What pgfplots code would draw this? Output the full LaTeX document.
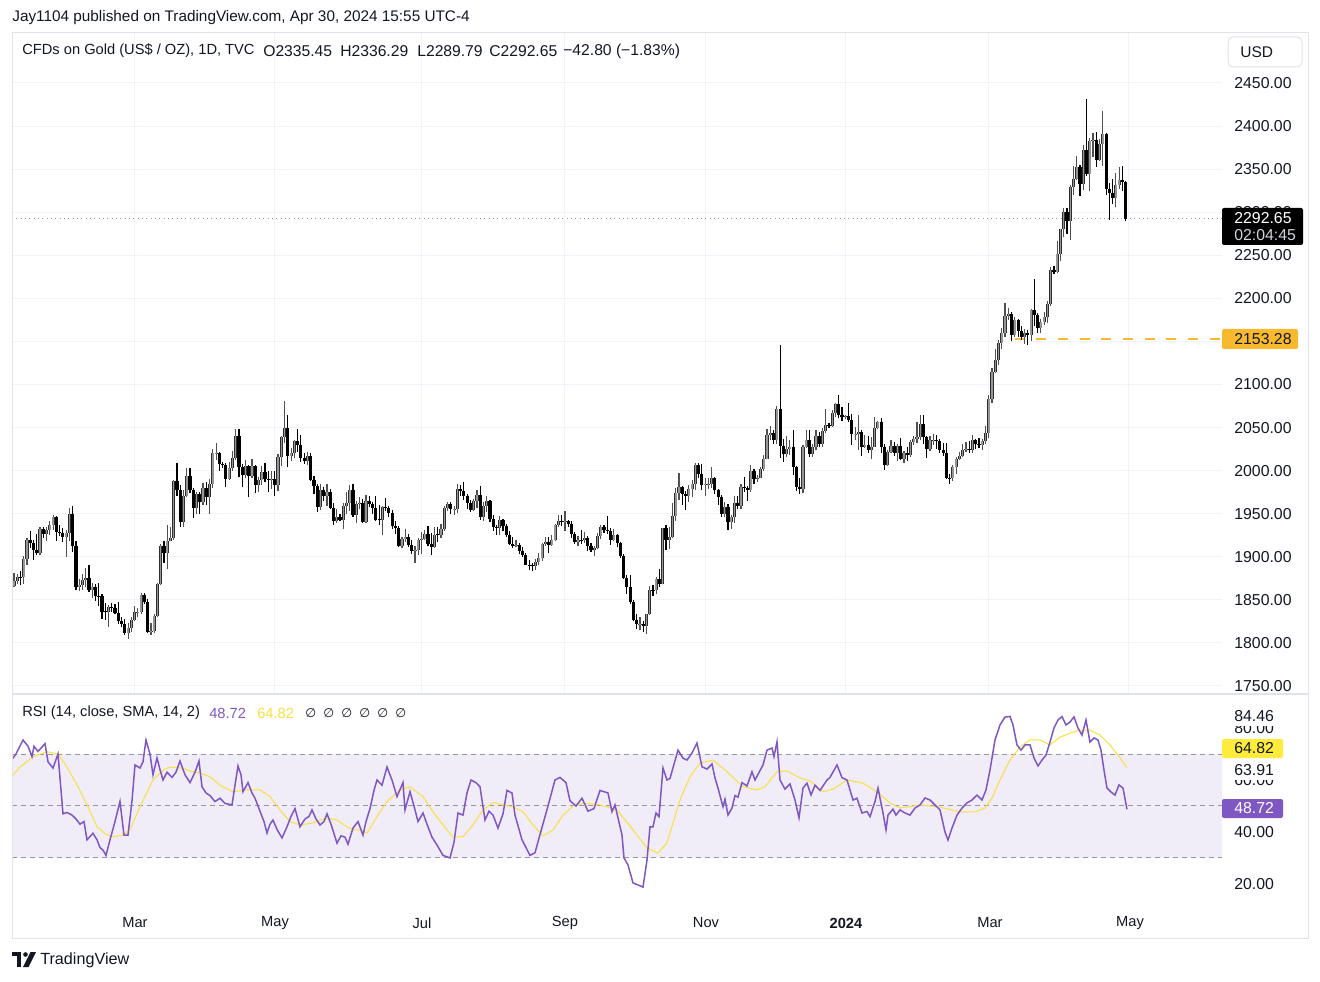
\documentclass[border=0pt]{standalone}
\usepackage{fontspec}
\setmainfont{Liberation Sans}
\newfontfamily\dejavu{DejaVu Sans}
\usepackage{pgfplots}
\usepackage{pgfplotstable}
\pgfplotsset{compat=1.18}
\usepgfplotslibrary{fillbetween}

\definecolor{tvtext}{RGB}{19,23,34}
\definecolor{gridc}{RGB}{240,243,250}
\definecolor{framec}{RGB}{224,227,235}
\definecolor{rsic}{RGB}{126,87,194}
\definecolor{smac}{RGB}{250,224,60}
\definecolor{smabox}{RGB}{255,235,59}
\definecolor{dashc}{RGB}{150,152,161}
\definecolor{ylw}{RGB}{249,185,46}
\definecolor{upedge}{RGB}{45,45,45}
\definecolor{upfill}{RGB}{150,150,150}
\definecolor{upwick}{RGB}{80,80,80}

% daily OHLC, bar index 0 = 9 Jan 2023 ... 341 = 30 Apr 2024
\pgfplotstableread{
i o h l c
0 1866 1881 1865 1872
1 1872 1880 1868 1877
2 1877 1884 1867 1876
3 1876 1901 1868 1897
4 1897 1922 1891 1920
5 1920 1930 1910 1916
6 1916 1920 1896 1908
7 1908 1927 1902 1904
8 1904 1935 1902 1932
9 1932 1934 1922 1926
10 1926 1935 1918 1931
11 1931 1942 1925 1937
12 1937 1949 1931 1946
13 1946 1947 1918 1929
14 1929 1937 1924 1928
15 1928 1933 1917 1923
16 1923 1931 1900 1928
17 1928 1957 1918 1950
18 1950 1959 1905 1912
19 1912 1918 1861 1865
20 1865 1874 1860 1867
21 1867 1880 1862 1873
22 1873 1887 1865 1875
23 1875 1890 1859 1861
24 1861 1870 1852 1865
25 1865 1868 1849 1854
26 1855 1870 1843 1854
27 1854 1857 1828 1836
28 1837 1846 1827 1836
29 1836 1844 1819 1842
30 1842 1846 1836 1841
31 1841 1845 1833 1835
32 1835 1847 1822 1825
33 1825 1830 1818 1822
34 1822 1828 1809 1811
35 1811 1823 1804 1817
36 1817 1830 1813 1827
37 1827 1843 1826 1836
38 1835 1841 1830 1836
39 1836 1858 1834 1856
40 1856 1858 1845 1847
41 1847 1851 1812 1813
42 1813 1823 1809 1814
43 1814 1834 1812 1831
44 1831 1870 1830 1868
45 1868 1915 1867 1913
46 1913 1918 1893 1904
47 1904 1937 1886 1918
48 1918 1934 1918 1922
49 1922 1989 1919 1988
50 1988 2009 1971 1978
51 1978 1983 1935 1940
52 1940 1977 1934 1970
53 1970 2003 1969 1994
54 1994 2003 1974 1977
55 1977 1980 1945 1957
56 1957 1975 1950 1973
57 1973 1975 1950 1964
58 1964 1986 1960 1980
59 1980 1987 1960 1969
60 1969 1990 1950 1984
61 1984 2025 1980 2020
62 2020 2032 2012 2021
63 2021 2022 2000 2008
64 2008 2010 2003 2007
65 2007 2009 1981 1990
66 1990 2010 1989 2003
67 2003 2023 2000 2015
68 2015 2048 2012 2040
69 2040 2048 1993 2004
70 2004 2008 1981 1995
71 1995 2012 1991 2005
72 2005 2007 1969 1994
73 1994 2013 1991 2005
74 2005 2006 1974 1983
75 1983 1993 1975 1989
76 1989 2005 1983 1998
77 1998 2009 1987 1990
78 1990 2000 1975 1989
79 1989 2000 1979 1990
80 1990 1999 1970 1983
81 1983 2019 1976 2016
82 2016 2040 2005 2039
83 2039 2081 2032 2050
84 2050 2065 2004 2017
85 2017 2026 2011 2021
86 2021 2036 2015 2034
87 2034 2048 2022 2030
88 2030 2041 2010 2015
89 2015 2021 2008 2011
90 2011 2022 2006 2017
91 2017 2020 1988 1989
92 1989 1994 1973 1982
93 1982 1984 1952 1958
94 1958 1984 1954 1977
95 1977 1981 1965 1971
96 1971 1985 1959 1975
97 1975 1979 1956 1957
98 1957 1962 1937 1941
99 1941 1955 1939 1946
100 1946 1950 1941 1943
101 1943 1962 1932 1959
102 1959 1975 1950 1963
103 1963 1983 1953 1978
104 1978 1984 1946 1948
105 1948 1965 1939 1961
106 1961 1969 1955 1963
107 1963 1967 1939 1940
108 1940 1972 1939 1965
109 1965 1971 1958 1961
110 1961 1964 1950 1957
111 1957 1971 1942 1943
112 1944 1960 1937 1943
113 1943 1959 1925 1958
114 1958 1968 1953 1957
115 1957 1959 1946 1951
116 1951 1954 1932 1936
117 1936 1941 1926 1933
118 1933 1936 1911 1913
119 1913 1923 1910 1921
120 1921 1932 1917 1923
121 1923 1926 1911 1914
122 1914 1920 1903 1907
123 1907 1913 1893 1908
124 1908 1922 1902 1919
125 1919 1929 1903 1921
126 1921 1931 1919 1926
127 1926 1936 1912 1915
128 1915 1928 1902 1911
129 1911 1934 1910 1925
130 1926 1935 1917 1925
131 1925 1938 1922 1932
132 1932 1959 1930 1957
133 1957 1964 1953 1961
134 1961 1964 1950 1955
135 1954 1959 1948 1955
136 1955 1984 1951 1979
137 1979 1983 1970 1976
138 1976 1987 1966 1970
139 1970 1973 1955 1962
140 1962 1966 1952 1954
141 1954 1967 1953 1965
142 1965 1978 1957 1972
143 1972 1982 1943 1946
144 1946 1964 1942 1959
145 1959 1970 1952 1965
146 1965 1966 1940 1944
147 1944 1949 1930 1934
148 1934 1937 1925 1933
149 1933 1947 1925 1943
150 1943 1944 1930 1936
151 1936 1938 1923 1925
152 1925 1930 1914 1915
153 1915 1923 1910 1913
154 1913 1919 1911 1914
155 1914 1916 1903 1907
156 1907 1911 1900 1902
157 1902 1904 1890 1891
158 1891 1896 1885 1889
159 1890 1893 1884 1889
160 1889 1897 1885 1894
161 1894 1904 1890 1899
162 1899 1916 1895 1915
163 1915 1923 1913 1917
164 1917 1923 1904 1914
165 1914 1925 1912 1920
166 1920 1938 1918 1937
167 1937 1948 1935 1942
168 1942 1949 1936 1940
169 1940 1953 1930 1941
170 1941 1943 1935 1938
171 1938 1942 1922 1926
172 1926 1929 1915 1917
173 1917 1924 1913 1919
174 1920 1931 1915 1919
175 1919 1929 1916 1922
176 1922 1924 1907 1913
177 1913 1916 1906 1908
178 1908 1912 1901 1910
179 1910 1928 1909 1924
180 1924 1937 1921 1934
181 1934 1937 1928 1931
182 1931 1947 1927 1930
183 1930 1933 1914 1920
184 1920 1932 1918 1925
185 1925 1926 1911 1916
186 1916 1917 1899 1901
187 1901 1903 1874 1875
188 1875 1879 1857 1865
189 1865 1879 1845 1848
190 1848 1850 1825 1827
191 1827 1833 1816 1822
192 1821 1830 1815 1822
193 1822 1826 1813 1820
194 1820 1834 1810 1833
195 1833 1866 1832 1862
196 1862 1867 1855 1861
197 1861 1877 1857 1874
198 1874 1886 1865 1868
199 1868 1933 1868 1933
200 1933 1937 1908 1919
201 1919 1935 1909 1923
202 1923 1962 1922 1947
203 1947 1980 1942 1974
204 1974 1997 1966 1981
205 1981 1982 1960 1973
206 1973 1976 1954 1971
207 1971 1983 1964 1979
208 1979 1989 1969 1985
209 1985 2009 1978 2006
210 2006 2009 1991 1996
211 1996 2008 1977 1983
212 1983 1991 1970 1984
213 1984 1992 1979 1985
214 1985 2004 1980 1992
215 1992 1993 1973 1978
216 1978 1979 1960 1969
217 1969 1972 1946 1950
218 1950 1964 1946 1958
219 1958 1961 1931 1940
220 1940 1948 1932 1946
221 1946 1971 1939 1963
222 1963 1970 1955 1959
223 1959 1984 1956 1981
224 1981 1993 1975 1980
225 1980 1982 1965 1978
226 1978 2007 1975 1999
227 1999 2002 1985 1990
228 1990 1995 1987 1992
229 1992 2004 1991 2002
230 2002 2018 1999 2014
231 2014 2048 2013 2041
232 2041 2052 2036 2044
233 2044 2047 2031 2036
234 2036 2075 2031 2072
235 2072 2146 2015 2029
236 2029 2037 2010 2019
237 2019 2040 2016 2025
238 2025 2035 2018 2028
239 2028 2047 1995 2004
240 2004 2005 1976 1981
241 1981 1992 1973 1979
242 1979 2030 1974 2027
243 2027 2047 2026 2036
244 2036 2047 2016 2019
245 2019 2031 2016 2027
246 2027 2047 2024 2040
247 2040 2045 2027 2031
248 2031 2049 2027 2046
249 2046 2071 2044 2053
250 2053 2055 2050 2052
251 2052 2070 2051 2067
252 2067 2078 2062 2077
253 2077 2088 2061 2065
254 2065 2074 2058 2062
255 2062 2065 2060 2063
256 2063 2079 2057 2059
257 2059 2066 2030 2042
258 2042 2051 2035 2043
259 2043 2064 2024 2045
260 2045 2047 2017 2027
261 2027 2041 2026 2030
262 2030 2040 2021 2024
263 2024 2039 2013 2028
264 2028 2062 2028 2049
265 2049 2058 2048 2057
266 2057 2061 2020 2028
267 2028 2031 2001 2006
268 2006 2024 2005 2022
269 2022 2035 2021 2029
270 2029 2033 2017 2021
271 2021 2031 2011 2029
272 2029 2038 2012 2014
273 2014 2023 2009 2020
274 2020 2027 2011 2018
275 2018 2036 2016 2033
276 2033 2040 2030 2037
277 2037 2056 2032 2039
278 2039 2065 2036 2054
279 2054 2065 2031 2039
280 2039 2040 2015 2025
281 2025 2040 2023 2035
282 2034 2043 2030 2035
283 2035 2041 2025 2034
284 2034 2037 2020 2024
285 2024 2032 2017 2020
286 2020 2032 1990 1992
287 1992 1996 1984 1991
288 1991 2006 1988 2004
289 2004 2016 1996 2013
290 2013 2022 2012 2017
291 2017 2031 2016 2024
292 2024 2033 2022 2025
293 2025 2034 2021 2024
294 2024 2041 2021 2035
295 2035 2037 2025 2031
296 2031 2038 2026 2030
297 2030 2037 2024 2034
298 2034 2052 2031 2044
299 2044 2088 2038 2083
300 2083 2119 2079 2114
301 2114 2141 2113 2128
302 2128 2152 2123 2148
303 2148 2165 2141 2160
304 2160 2195 2155 2179
305 2179 2189 2175 2182
306 2182 2184 2150 2158
307 2158 2178 2155 2175
308 2175 2176 2155 2162
309 2162 2168 2152 2155
310 2155 2164 2147 2160
311 2160 2163 2146 2157
312 2157 2188 2151 2186
313 2186 2223 2168 2181
314 2181 2183 2160 2165
315 2165 2176 2160 2172
316 2172 2184 2169 2178
317 2178 2197 2171 2194
318 2194 2236 2191 2233
319 2233 2237 2228 2230
320 2230 2266 2229 2251
321 2251 2281 2243 2280
322 2280 2305 2271 2300
323 2300 2305 2275 2290
324 2290 2331 2268 2329
325 2329 2354 2320 2339
326 2339 2365 2337 2352
327 2352 2355 2319 2333
328 2333 2378 2326 2372
329 2372 2431 2342 2344
330 2344 2386 2325 2383
331 2383 2392 2364 2384
332 2384 2393 2353 2361
333 2361 2385 2359 2379
334 2379 2417 2354 2391
335 2391 2392 2320 2327
336 2327 2334 2291 2322
337 2322 2338 2309 2316
338 2316 2346 2306 2332
339 2332 2352 2327 2337
340 2337 2354 2325 2335
341 2335.45 2336.29 2289.79 2292.65
}\candles

% RSI(14) read off the lower pane, x in screen px of the time scale
\pgfplotstableread{
x r
12 68
16 70
23 75.4
28 73
32 69
34 73
38 71
45 74
48 67
53 64.6
58 70
63 47
67 47.5
72 46.5
76 45
80 43
84 44
87 37
93 39.5
97 37
100 34
103 33
106 31
110 37
115 44
120 51.7
124 38.8
128 38.8
132 52
135 65.8
140 64.6
143 67
146 75.4
150 70
153 62
157 68.5
160 64
163 60
167 63
172 61
176 63
180 67.3
185 62
190 59
195 63
199 67.3
202 57.4
206 55
210 54
215 51.7
220 53
225 51
232 50.4
235 58
238 65.4
241 62
243 55.5
248 59
252 55
255 53
260 48
264 44
267 39.6
270 43
273 44.6
277 41
282 37.7
287 42
291 46
295 49
300 42
305 45
309 46
312 48.5
316 45
320 42.7
324 44
327 47
331 43
337 35.7
341 38.5
345 38
348 35.3
353 41.5
358 44
363 38.8
366 44
370 49
374 56
377 60
382 58
387 65
392 60
397 53.6
403 59
405 48.5
410 55.5
414 50
418 44
423 47.3
427 43
432 38
437 35
443 31
450 30
454 36
458 47.3
463 46.5
467 55
471 60
476 59
480 57.4
485 44.6
489 48
493 46.5
498 41.5
503 47
507 56
512 55
515 46.5
522 37
530 31
535 32
540 39
548 50
555 60
560 61
566 59
570 52
576 50
582 53
588 48
594 49
600 56
608 55
612 47.8
615 50.4
622 38.8
624 30
628 27.3
633 20.4
643 18.8
647 29.2
650 42
653 42
656 47.3
659 45.9
663 64.6
667 60
670 60.6
678 71.5
683 68.4
687 67.7
692 70.4
697 74.2
702 65.1
707 64.2
712 66.2
715 60.8
718 56.9
723 49.7
725 52.6
728 46.5
732 49.2
735 54
738 53.4
742 59
747 57.7
752 63.2
755 60
763 65.8
767 71.5
772 72.3
774 69
777 74.7
780 60
785 56.5
790 58.5
795 52.3
799 45.4
803 56.9
807 58.8
811 54.2
815 58
820 56
827 60
830 61
837 65.8
842 60.9
847 60
853 52.3
857 53
862 47.3
867 47.9
870 45.9
875 51.7
878 56.9
883 47.3
886 40.8
888 46.5
893 48.8
896 46.5
900 48.5
905 47.3
910 46.5
915 49.2
920 50.4
925 53.1
930 52.3
935 50.4
940 48.5
945 40
948 36.9
952 41.5
957 46.5
962 49.2
967 51.2
972 52.3
977 54.2
982 52.3
986 56.2
990 63.8
995 75.4
1000 81.2
1005 84.2
1010 84.46
1013 81.2
1017 73.5
1021 71.5
1025 73.5
1030 73.5
1034 68.5
1038 65.4
1042 67.7
1046 69.6
1050 74.6
1054 80
1058 83.1
1062 84.4
1066 81.2
1070 82.3
1074 84.3
1078 80
1082 77.3
1086 83.1
1090 74.6
1094 76.2
1098 75.4
1101 71.5
1104 63.8
1107 56.9
1111 55.4
1115 54.2
1119 58.1
1123 56.9
1127 48.72
}\rsi

% SMA(14) of the RSI
\pgfplotstableread{
x m
12 61.5
20 65
33 69
47 70.9
58 70
67 65
78 57.4
88 49.7
97 42
107 38.8
115 38.2
123 38.8
130 40.8
140 49.7
153 60
163 63.8
170 65
182 64.6
190 63.5
200 62.7
210 61.3
220 58
233 55.5
247 56.2
260 56.2
270 53.6
280 48.5
290 44
300 42.7
313 43.5
327 45.4
337 44.6
347 42
353 40.8
360 40.8
367 39.6
377 45.9
387 51.7
400 56.2
410 57.4
423 53.6
433 47.8
443 42.7
453 38
463 38.2
473 42.7
483 48.5
493 51.3
503 50.4
513 49.7
523 47.8
533 42.7
543 38.5
553 40.8
563 46.5
573 50
583 51
593 50.8
600 50.4
617 48.5
633 40.8
647 33.8
658 31.9
667 35.8
680 52.3
690 61.3
700 66.5
713 67.7
727 63.2
743 57.4
757 56.2
765 57.4
777 63.2
787 63.5
800 60.8
810 59.7
823 55.5
833 56.5
847 60
863 58.8
877 55.5
890 51.2
900 49.2
920 50.4
940 49.6
960 47.7
975 47.7
985 49.2
992 53.1
1000 60
1010 67.7
1020 72.7
1030 75.4
1040 75.4
1050 73.5
1060 76.5
1070 78
1080 79.2
1090 79.2
1100 77.3
1110 73.5
1120 68.5
1127 64.82
}\rsima

\pgfplotsset{
  tvaxis/.style={
    anchor=south west, scale only axis, width=726pt,
    axis line style={draw=none}, major tick length=0pt,
    grid=major, grid style={gridc, line width=0.6pt},
    yticklabel pos=right,
    yticklabel style={anchor=west, inner sep=0pt, xshift=7.2pt, text=tvtext,
      font=\fontsize{9.5}{11}\selectfont},
    y tick label style={/pgf/number format/.cd, fixed, fixed zerofill,
      precision=2, 1000 sep={}, assume math mode=true},
  },
  candle/.style={draw=none, mark=none, forget plot},
}

\begin{document}
\begin{tikzpicture}[x=0.6pt, y=0.6pt, font=\fontsize{8.8}{10.5}\selectfont, text=tvtext]
\fill[white] (0,0) rectangle (1320,981);

% price pane
\begin{axis}[tvaxis, at={(7.2pt,172.2pt)}, height=396.6pt,
  xmin=-0.613, xmax=370.55, ymin=1740.7, ymax=2508,
  xtick={37,80,125,169,212,255,299,342}, xticklabels={},
  ytick={1750,1800,...,2450}]
\draw[dashc, dotted, line width=0.6pt] (axis cs:-0.613,2292.65) -- (axis cs:370.55,2292.65);
\draw[ylw, line width=1.2pt, dash pattern=on 6pt off 7pt] (axis cs:307,2153.28) -- (axis cs:370.55,2153.28);
% up candles
\addplot[candle, error bars/.cd, y dir=plus, y explicit,
  error mark=none, error bar style={draw=upwick, line width=0.7pt}]
  table[x=i, y expr={\thisrow{c}>=\thisrow{o} ? \thisrow{l} : nan},
        y error expr={\thisrow{h}-\thisrow{l}}] {\candles};
\addplot[candle, error bars/.cd, y dir=minus, y explicit,
  error mark=none, error bar style={draw=upedge, line width=1.9pt}]
  table[x=i, y expr={\thisrow{c}>=\thisrow{o} ? \thisrow{c} : nan},
        y error expr={\thisrow{c}-\thisrow{o}}] {\candles};
\addplot[candle, error bars/.cd, y dir=minus, y explicit,
  error mark=none, error bar style={draw=upfill, line width=0.9pt}]
  table[x=i, y expr={\thisrow{c}>=\thisrow{o} ? \thisrow{c} : nan},
        y error expr={\thisrow{c}-\thisrow{o}}] {\candles};
% down candles
\addplot[candle, error bars/.cd, y dir=plus, y explicit,
  error mark=none, error bar style={draw=black, line width=0.7pt}]
  table[x=i, y expr={\thisrow{c}<\thisrow{o} ? \thisrow{l} : nan},
        y error expr={\thisrow{h}-\thisrow{l}}] {\candles};
\addplot[candle, error bars/.cd, y dir=minus, y explicit,
  error mark=none, error bar style={draw=black, line width=1.9pt}]
  table[x=i, y expr={\thisrow{c}<\thisrow{o} ? \thisrow{o} : nan},
        y error expr={\thisrow{o}-\thisrow{c}}] {\candles};
\end{axis}

% RSI pane
\begin{axis}[tvaxis, at={(7.2pt,45.6pt)}, height=126.6pt,
  xmin=12, xmax=1222, ymin=11.9, ymax=93.1,
  xtick={135,275,422,565,706,846,990,1130},
  xticklabels={Mar,May,Jul,Sep,Nov,\textbf{2024},Mar,May},
  xticklabel style={anchor=center, yshift=-10.8pt, text=tvtext,
    font=\fontsize{8.8}{10.5}\selectfont},
  ytick={20,40,60,80}]
\fill[rsic, fill opacity=0.11] (axis cs:12,30) rectangle (axis cs:1222,70);
\draw[dashc, line width=0.6pt, dash pattern=on 3pt off 2.4pt] (axis cs:12,70) -- (axis cs:1222,70);
\draw[dashc, line width=0.6pt, dash pattern=on 3pt off 2.4pt] (axis cs:12,50) -- (axis cs:1222,50);
\draw[dashc, line width=0.6pt, dash pattern=on 3pt off 2.4pt] (axis cs:12,30) -- (axis cs:1222,30);
\addplot[draw=none, name path=obl, forget plot] coordinates {(12,70) (1222,70)};
\addplot[draw=none, name path=osl, forget plot] coordinates {(12,30) (1222,30)};
\addplot[draw=none, name path=rsiline, forget plot] table[x=x, y=r] {\rsi};
\addplot[fill={rgb,255:red,76;green,175;blue,80}, fill opacity=0.3, forget plot]
  fill between[of=rsiline and obl, soft clip={(axis cs:12,70) rectangle (axis cs:1222,100)}];
\addplot[fill={rgb,255:red,242;green,54;blue,69}, fill opacity=0.22, forget plot]
  fill between[of=rsiline and osl, soft clip={(axis cs:12,0) rectangle (axis cs:1222,30)}];
\addplot[smac, line width=0.6pt, forget plot] table[x=x, y=m] {\rsima};
\addplot[rsic, line width=0.9pt, forget plot] table[x=x, y=r] {\rsi};
\end{axis}

% frame and pane separator
\draw[framec, line width=0.6pt] (12,43) rectangle (1308,948);
\draw[framec, line width=0.8pt] (12,287) -- (1308,287);

% header texts
\node[anchor=west, inner sep=0pt, font=\fontsize{9.2}{11}\selectfont] at (12,963) {Jay1104 published on TradingView.com, Apr 30, 2024 15:55 UTC-4};
\node[anchor=west, inner sep=0pt] at (22,930) {CFDs on Gold (US\$ / OZ), 1D, TVC};
\begin{scope}[every node/.style={anchor=west, inner sep=0pt, font=\fontsize{9.4}{11}\selectfont}]
\node at (263,930) {O2335.45};
\node at (340,930) {H2336.29};
\node at (417,930) {L2289.79};
\node at (489,930) {C2292.65};
\node at (563,930) {−42.80 (−1.83\%)};
\end{scope}

% USD button
\draw[framec, fill=white, rounded corners=3pt, line width=0.6pt] (1228,914) rectangle (1302,944);
\node[anchor=west, inner sep=0pt, font=\fontsize{9.3}{11}\selectfont] at (1240,929) {USD};

% last price and level labels
\fill[black, rounded corners=1.2pt] (1222,736) rectangle (1303,773);
\node[anchor=west, inner sep=0pt, text=white, font=\fontsize{9.5}{11}\selectfont] at (1234,763) {2292.65};
\node[anchor=west, inner sep=0pt, text={rgb,255:red,209;green,212;blue,220}, font=\fontsize{9.5}{11}\selectfont] at (1234,746) {02:04:45};
\fill[ylw, rounded corners=1.2pt] (1222,632) rectangle (1298,652);
\node[anchor=west, inner sep=0pt, font=\fontsize{9.5}{11}\selectfont] at (1234,642) {2153.28};

% RSI header
\fill[white] (20,259) rectangle (202,277);
\node[anchor=west, inner sep=0pt] at (22,268) {RSI (14, close, SMA, 14, 2)};
\node[anchor=west, inner sep=0pt, text=rsic] at (209,268) {48.72};
\node[anchor=west, inner sep=0pt, text=smac] at (257,268) {64.82};
\foreach \xx in {305,323,341,359,377,395}
  \node[anchor=west, inner sep=0pt, font=\dejavu\fontsize{7.5}{9}\selectfont] at (\xx,268) {∅};

% RSI scale labels
\node[anchor=west, inner xsep=0pt, inner ysep=2.4pt, fill=white, font=\fontsize{9.5}{11}\selectfont] at (1234,265) {84.46};
\node[anchor=west, inner xsep=0pt, inner ysep=2.4pt, fill=white, font=\fontsize{9.5}{11}\selectfont] at (1234,211) {63.91};
\fill[smabox, rounded corners=1.2pt] (1222,223) rectangle (1283,242);
\node[anchor=west, inner sep=0pt, font=\fontsize{9.5}{11}\selectfont] at (1234,232.5) {64.82};
\fill[rsic, rounded corners=1.2pt] (1222,163) rectangle (1283,182);
\node[anchor=west, inner sep=0pt, text=white, font=\fontsize{9.5}{11}\selectfont] at (1234,172.5) {48.72};

% TradingView logo
\fill[tvtext] (12,25) rectangle (21,29);
\fill[tvtext] (16.5,14) rectangle (21,29);
\fill[tvtext] (25.5,26.5) circle (2.3);
\fill[tvtext] (23,14) -- (28.5,14) -- (36,29) -- (30.5,29) -- cycle;
\node[anchor=west, inner sep=0pt, font=\fontsize{9.7}{11}\selectfont] at (40,21) {TradingView};
\end{tikzpicture}
\end{document}
